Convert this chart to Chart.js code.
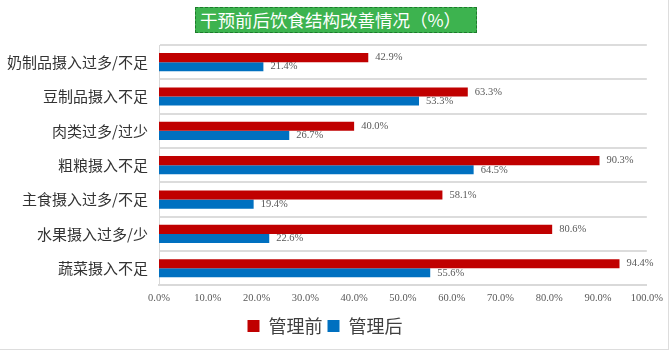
<!DOCTYPE html>
<html>
<head>
<meta charset="utf-8">
<script src="https://cdn.jsdelivr.net/npm/chart.js@4/dist/chart.umd.min.js"></script>
<style>
  html, body { margin: 0; padding: 0; background: #fff; }
  #wrap { position: relative; width: 670px; height: 351px; }
  #frame { position: absolute; left: 0; top: 0; width: 669px; height: 350px; border-right: 1px solid #ddd; border-bottom: 1px solid #ddd; box-sizing: border-box; pointer-events: none; }
  #title {
    position: absolute; left: 195px; top: 7px; width: 282px; height: 26px;
    background: #3db34f; border: 1px dashed #1e7a2c; box-sizing: border-box;
    color: #fff; font: 17.5px "Noto Sans CJK SC", sans-serif; line-height: 24px;
    padding-left: 4px; white-space: nowrap;
  }
</style>
</head>
<body>
<div id="wrap">
  <canvas id="chart" width="670" height="351"></canvas>
  <div id="title">干预前后饮食结构改善情况（%）</div>
  <div id="frame"></div>
</div>
<script>
'use strict';
// categories, top to bottom
var categories = ['奶制品摄入过多/不足', '豆制品摄入不足', '肉类过多/过少', '粗粮摄入不足', '主食摄入过多/不足', '水果摄入过多/少', '蔬菜摄入不足'];
var before = [42.9, 63.3, 40.0, 90.3, 58.1, 80.6, 94.4];
var after = [21.4, 53.3, 26.7, 64.5, 19.4, 22.6, 55.6];
var seriesNames = ['管理前', '管理后'];

// value labels at bar ends
var barLabels = {
  id: 'barLabels',
  afterDatasetsDraw: function (chart) {
    var ctx = chart.ctx;
    ctx.save();
    ctx.font = '10.5px "Liberation Serif", serif';
    ctx.fillStyle = '#595959';
    ctx.textBaseline = 'middle';
    ctx.textAlign = 'left';
    chart.data.datasets.forEach(function (ds, i) {
      chart.getDatasetMeta(i).data.forEach(function (bar, j) {
        ctx.fillText(ds.data[j].toFixed(1) + '%', bar.x + 7, bar.y);
      });
    });
    ctx.restore();
  }
};

var ctx = document.getElementById('chart').getContext('2d');
new Chart(ctx, {
  type: 'bar',
  data: {
    labels: categories,
    datasets: [
      { label: seriesNames[0], data: before, backgroundColor: '#c00000' },
      { label: seriesNames[1], data: after, backgroundColor: '#0070c0' }
    ]
  },
  options: {
    indexAxis: 'y',
    responsive: false,
    animation: false,
    categoryPercentage: 0.53,
    barPercentage: 1.0,
    layout: { padding: { top: 45, right: 20, bottom: 6, left: 0 } },
    scales: {
      x: {
        min: 0, max: 100,
        grid: { display: false, drawTicks: false, tickLength: 0 },
        border: { color: '#d9d9d9', width: 2 },
        ticks: {
          stepSize: 10,
          padding: 7,
          color: '#595959',
          font: { family: '"Liberation Serif", serif', size: 10.5 },
          callback: function (v) { return v.toFixed(1) + '%'; }
        }
      },
      y: {
        grid: { color: '#dcdcdc', lineWidth: 2, drawTicks: false },
        border: { color: '#d9d9d9', width: 1 },
        ticks: {
          padding: 11,
          color: '#333',
          font: { family: '"Noto Sans CJK SC", sans-serif', size: 15 }
        },
        afterFit: function (scale) { scale.width = 159; }
      }
    },
    plugins: {
      legend: {
        position: 'bottom',
        labels: {
          boxWidth: 12, boxHeight: 12, padding: 5,
          color: '#404040',
          font: { family: '"Noto Sans CJK SC", sans-serif', size: 18 }
        }
      },
      tooltip: { enabled: false }
    }
  },
  plugins: [barLabels]
});
</script>
</body>
</html>
